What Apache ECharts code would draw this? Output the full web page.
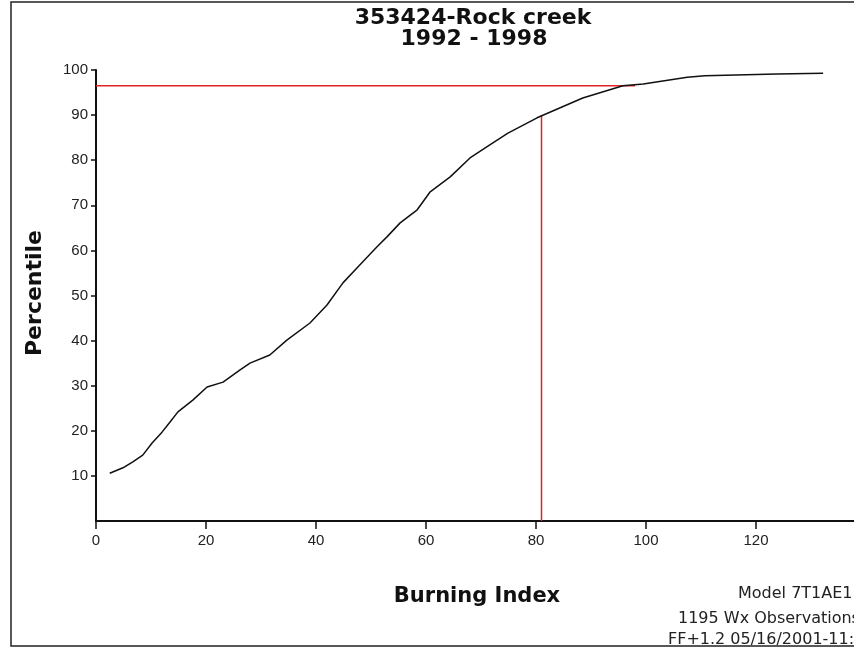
<!DOCTYPE html>
<html>
<head>
    <meta charset="utf-8">
    <title>353424-Rock creek</title>
    <script type="text/javascript" src="https://cdn.jsdelivr.net/npm/echarts@6.0.0/dist/echarts.min.js"></script>
</head>
<body style="margin:0;background:#fff;">

    <div id="main" style="width: 854px;height:648px;"></div>

    <script type="text/javascript">
        // cumulative distribution
        var burningIndex = [2.5, 4.9, 6.7, 8.5, 10.2, 12.0, 13.5, 14.9, 17.6, 20.2, 23.1, 26.2, 28.0, 31.6, 34.7,
            38.9, 42.0, 44.9, 48.0, 51.1, 52.9, 55.3, 58.4, 60.7, 64.4, 68.0, 71.6, 74.9, 80.2, 88.5, 95.8,
            99.5, 107.5, 110.7, 123.8, 132.2];
        var percentile = [10.6, 11.8, 13.1, 14.6, 17.3, 19.7, 22.0, 24.2, 26.8, 29.7, 30.8, 33.5, 35.0, 36.8, 40.1,
            43.9, 47.9, 52.8, 56.8, 60.8, 63.0, 66.1, 69.0, 72.9, 76.3, 80.5, 83.4, 86.0, 89.4, 93.8, 96.5,
            96.9, 98.4, 98.7, 99.1, 99.3];

        // the two red guide lines: [burning index, percentile]
        var p90 = [81, 90];
        var p97 = [98, 96.5];

        var xTicks = [0, 20, 40, 60, 80, 100, 120, 140];
        var yTicks = [0, 10, 20, 30, 40, 50, 60, 70, 80, 90, 100];

        var curve = [];
        for (var i = 0; i < burningIndex.length; i++) {
            curve.push([burningIndex[i], percentile[i]]);
        }

        var myChart = echarts.init(document.getElementById('main'));

        var labelFont = {
            color: '#222',
            fontFamily: 'Liberation Sans, Arial, sans-serif',
            fontSize: 15
        };

        var option = {
            backgroundColor: '#fff',
            animation: false,
            grid: {
                left: 96,
                top: 70,
                width: 770,
                height: 451,
                outerBoundsMode: 'none',
                containLabel: false
            },
            xAxis: {
                type: 'value',
                min: xTicks[0],
                max: xTicks[xTicks.length - 1],
                interval: 20,
                splitLine: { show: false },
                axisLine: { onZero: false, lineStyle: { color: '#111', width: 2 } },
                axisTick: { length: 8, lineStyle: { color: '#111', width: 1.5 } },
                axisLabel: Object.assign({ margin: 12, hideOverlap: false }, labelFont)
            },
            yAxis: {
                type: 'value',
                min: yTicks[0],
                max: yTicks[yTicks.length - 1],
                interval: 10,
                splitLine: { show: false },
                axisLine: { show: true, lineStyle: { color: '#111', width: 2 } },
                axisTick: { show: true, length: 5, lineStyle: { color: '#111', width: 1.5 } },
                axisLabel: Object.assign({ margin: 8, showMinLabel: false }, labelFont)
            },
            series: [
                {
                    name: 'percentile',
                    type: 'line',
                    data: curve,
                    showSymbol: false,
                    lineStyle: { color: '#111', width: 1.5 },
                    z: 3
                },
                {
                    name: 'p97',
                    type: 'line',
                    data: [[0, p97[1]], [p97[0], p97[1]]],
                    showSymbol: false,
                    lineStyle: { color: '#e02424', width: 1.5 },
                    z: 2
                },
                {
                    name: 'p90',
                    type: 'line',
                    data: [[p90[0], 0], [p90[0], p90[1]]],
                    showSymbol: false,
                    lineStyle: { color: '#e02424', width: 1.5 },
                    z: 2
                }
            ],
            graphic: [
                {
                    type: 'rect',
                    shape: { x: 11, y: 2, width: 900, height: 644 },
                    style: { fill: 'none', stroke: '#222', lineWidth: 1.5 },
                    silent: true
                },
                {
                    type: 'text',
                    x: 473, y: 18,
                    style: {
                        text: '353424-Rock creek',
                        font: 'bold 22px "DejaVu Sans", sans-serif',
                        fill: '#111',
                        textAlign: 'center',
                        textVerticalAlign: 'middle'
                    }
                },
                {
                    type: 'text',
                    x: 474, y: 39,
                    style: {
                        text: '1992 - 1998',
                        font: 'bold 22px "DejaVu Sans", sans-serif',
                        fill: '#111',
                        textAlign: 'center',
                        textVerticalAlign: 'middle'
                    }
                },
                {
                    type: 'text',
                    x: 35, y: 293,
                    rotation: Math.PI / 2,
                    style: {
                        text: 'Percentile',
                        font: 'bold 22px "DejaVu Sans", sans-serif',
                        fill: '#111',
                        textAlign: 'center',
                        textVerticalAlign: 'middle'
                    }
                },
                {
                    type: 'text',
                    x: 477, y: 597,
                    style: {
                        text: 'Burning Index',
                        font: 'bold 21px "DejaVu Sans", sans-serif',
                        fill: '#111',
                        textAlign: 'center',
                        textVerticalAlign: 'middle'
                    }
                },
                {
                    type: 'text',
                    x: 738, y: 594,
                    style: {
                        text: 'Model 7T1AE1',
                        font: '16px "DejaVu Sans", sans-serif',
                        fill: '#222',
                        textAlign: 'left',
                        textVerticalAlign: 'middle'
                    }
                },
                {
                    type: 'text',
                    x: 678, y: 619,
                    style: {
                        text: '1195 Wx Observations',
                        font: '16px "DejaVu Sans", sans-serif',
                        fill: '#222',
                        textAlign: 'left',
                        textVerticalAlign: 'middle'
                    }
                },
                {
                    type: 'text',
                    x: 668, y: 640,
                    style: {
                        text: 'FF+1.2 05/16/2001-11:50',
                        font: '16px "DejaVu Sans", sans-serif',
                        fill: '#222',
                        textAlign: 'left',
                        textVerticalAlign: 'middle'
                    }
                }
            ]
        };

        myChart.setOption(option);
    </script>
</body>
</html>
